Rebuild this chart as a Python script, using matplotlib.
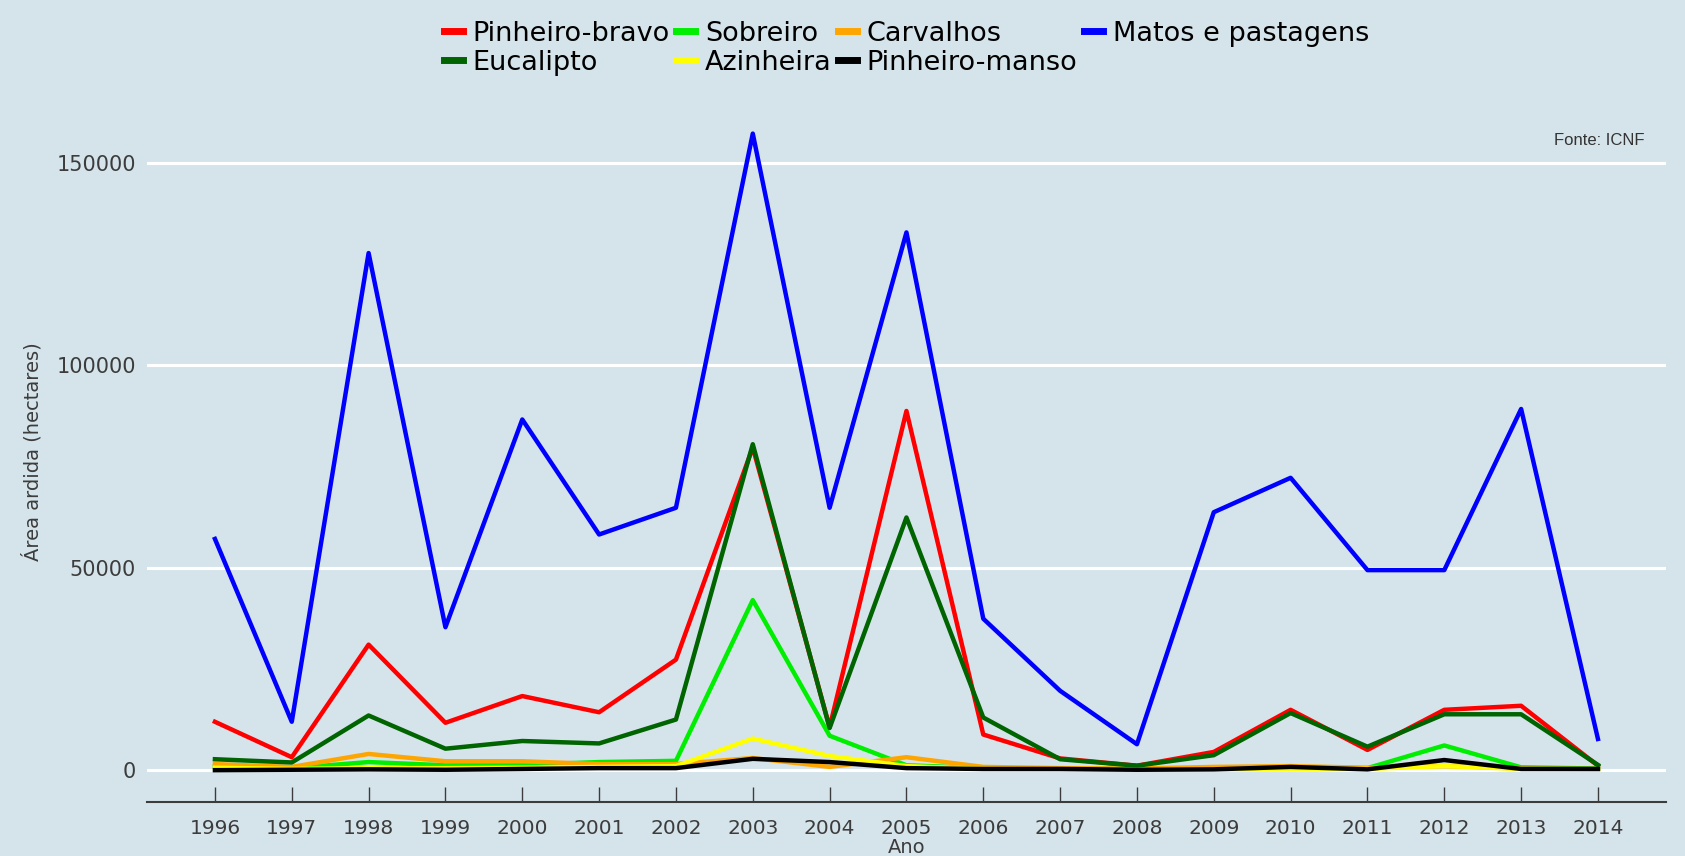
import matplotlib.pyplot as plt

anos = list(range(1996, 2015))

pinheiro_bravo = [11950, 3200, 31000, 11700, 18300, 14300, 27300, 79700, 10600, 88700,
                  8800, 2900, 1100, 4500, 14900, 5000, 14900, 15900, 1100]
eucalipto = [2700, 1900, 13500, 5300, 7200, 6600, 12500, 80500, 10400, 62400,
             13000, 2700, 1100, 3700, 14100, 5800, 13800, 13800, 1300]
sobreiro = [1000, 500, 2000, 1200, 1300, 2000, 2300, 42000, 8500, 1200,
            500, 400, 300, 400, 500, 500, 6100, 700, 400]
azinheira = [600, 300, 500, 500, 600, 800, 1000, 7800, 3500, 1000,
             300, 200, 100, 200, 200, 300, 1000, 300, 200]
carvalhos = [1500, 800, 4000, 2200, 2200, 1500, 1500, 3000, 800, 3200,
             800, 500, 400, 800, 1000, 600, 1000, 400, 300]
pinheiro_manso = [0, 100, 200, 100, 300, 500, 500, 2800, 2000, 500,
                  300, 300, 100, 200, 800, 200, 2500, 300, 300]
matos = [57100, 11950, 127700, 35300, 86600, 58200, 64800, 157200, 64800, 132800,
         37400, 19600, 6400, 63700, 72200, 49400, 49400, 89200, 7700]

# order so the legend reads row by row like the original
series = [
    ('Pinheiro-bravo', pinheiro_bravo, '#ff0000'),
    ('Eucalipto', eucalipto, '#006400'),
    ('Sobreiro', sobreiro, '#00ee00'),
    ('Azinheira', azinheira, '#ffff00'),
    ('Carvalhos', carvalhos, '#ffa500'),
    ('Pinheiro-manso', pinheiro_manso, '#000000'),
    ('Matos e pastagens', matos, '#0000ff'),
]
draw_order = ['Matos e pastagens', 'Pinheiro-bravo', 'Sobreiro', 'Carvalhos',
              'Eucalipto', 'Azinheira', 'Pinheiro-manso']

bg = '#d5e4eb'
txt = '#3c3c3c'

fig = plt.figure(figsize=(16.85, 8.56), dpi=100, facecolor=bg)
ax = fig.add_axes([0.0872, 0.0631, 0.9015, 0.818], facecolor=bg)

lines = {}
for name, vals, col in series:
    z = 3 + draw_order.index(name)
    lines[name], = ax.plot(anos, vals, color=col, lw=3.2, label=name, zorder=z)

ax.set_xlim(1995.115, 2014.885)
ax.set_ylim(-7860, 165060)
ax.set_yticks([0, 50000, 100000, 150000])
ax.set_xticks(anos)
ax.grid(axis='y', color='white', lw=2.2, zorder=1)
ax.set_axisbelow(True)

for s in ['top', 'right', 'left']:
    ax.spines[s].set_visible(False)
ax.spines['bottom'].set_color('#3c3c3c')
ax.spines['bottom'].set_linewidth(1.5)

ax.tick_params(axis='y', length=0, pad=8, labelsize=15, labelcolor=txt)
ax.tick_params(axis='x', direction='in', length=11, width=1, color='#3c3c3c',
               pad=12, labelsize=14.5, labelcolor=txt)

ax.set_xlabel('Ano', fontsize=14, color=txt, labelpad=0)
ax.set_ylabel('Área ardida (hectares)', fontsize=14, color=txt, labelpad=10)

ax.text(0.986, 0.944, 'Fonte: ICNF', transform=ax.transAxes, ha='right', va='center',
        fontsize=12, color='#333333', family='Liberation Sans')

handles = [lines[n] for n, _, _ in series]
leg = fig.legend(handles, [h.get_label() for h in handles], loc='upper center',
                 bbox_to_anchor=(0.538, 1.004), ncol=4, frameon=False, fontsize=19.5,
                 handlelength=0.7, handletextpad=0.35, columnspacing=0.25,
                 labelspacing=0.1, labelcolor='black')
for h in leg.legend_handles:
    h.set_linewidth(5)

fig.savefig('out.png', dpi=100, facecolor=bg)
